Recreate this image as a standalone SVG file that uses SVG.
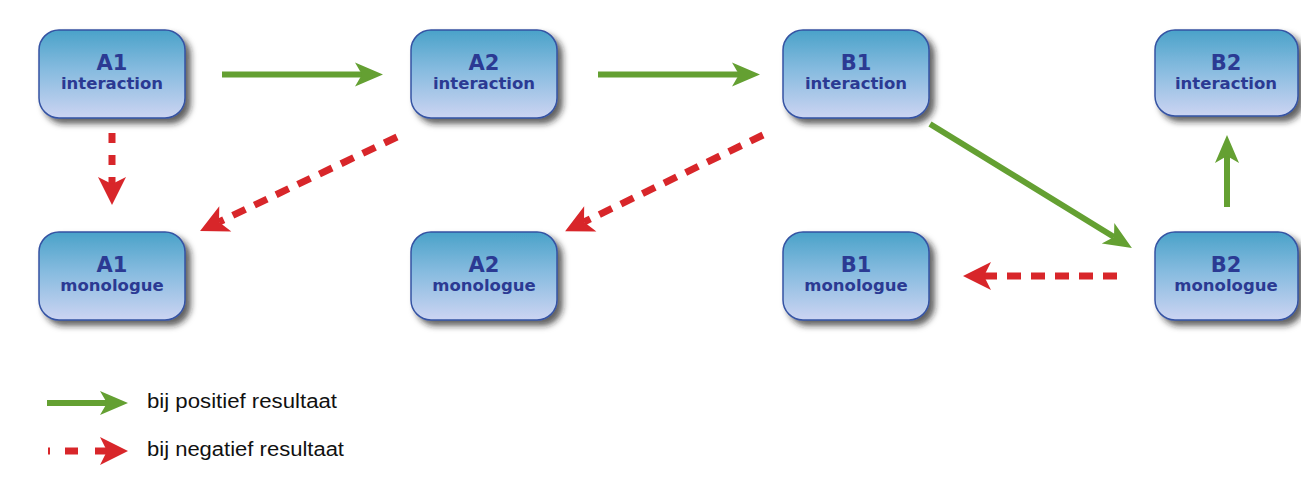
<svg xmlns="http://www.w3.org/2000/svg" width="1301" height="477" viewBox="0 0 1301 477">
  <defs>
    <linearGradient id="nodeGrad" x1="0" y1="0" x2="0" y2="1">
      <stop offset="0" stop-color="#4aa2c9"/>
      <stop offset="0.45" stop-color="#86bbdf"/>
      <stop offset="1" stop-color="#ccd4f2"/>
    </linearGradient>
    <filter id="shadow" x="-20%" y="-20%" width="150%" height="160%">
      <feDropShadow dx="5" dy="5" stdDeviation="3" flood-color="#1a1a1a" flood-opacity="0.7"/>
    </filter>
    <marker id="headGreen" markerUnits="userSpaceOnUse" markerWidth="30" markerHeight="26" refX="7" refY="12" orient="auto" overflow="visible">
      <path d="M0,0 L28,12 L0,24 L7,12 z" fill="#64a032"/>
    </marker>
    <marker id="headRed" markerUnits="userSpaceOnUse" markerWidth="30" markerHeight="30" refX="7" refY="14" orient="auto" overflow="visible">
      <path d="M0,0 L28,14 L0,28 L7,14 z" fill="#d8262a"/>
    </marker>
    <style>
      .box { fill: url(#nodeGrad); stroke: #3553a3; stroke-width: 1.5; filter: url(#shadow); }
      .t1 { font-family: "DejaVu Sans", sans-serif; font-weight: bold; font-size: 21px; fill: #2b3a93; text-anchor: middle; }
      .t2 { font-family: "DejaVu Sans", sans-serif; font-weight: bold; font-size: 16.5px; fill: #2b3a93; text-anchor: middle; }
      .pos { fill: none; stroke: #64a032; stroke-width: 6; marker-end: url(#headGreen); }
      .neg { fill: none; stroke: #d8262a; stroke-width: 7; stroke-dasharray: 14 10; marker-end: url(#headRed); }
      .leg { font-family: "Liberation Sans", Arial, sans-serif; font-size: 20px; fill: #111; }
    </style>
  </defs>
  <rect width="1301" height="477" fill="#ffffff"/>

  <g id="A1-interaction">
    <rect class="box" x="39" y="30" width="146" height="88" rx="20"/>
    <text class="t1" x="112" y="70">A1</text>
    <text class="t2" x="112" y="89">interaction</text>
  </g>
  <g id="A2-interaction">
    <rect class="box" x="411" y="30" width="146" height="88" rx="20"/>
    <text class="t1" x="484" y="70">A2</text>
    <text class="t2" x="484" y="89">interaction</text>
  </g>
  <g id="B1-interaction">
    <rect class="box" x="783" y="30" width="146" height="88" rx="20"/>
    <text class="t1" x="856" y="70">B1</text>
    <text class="t2" x="856" y="89">interaction</text>
  </g>
  <g id="B2-interaction">
    <rect class="box" x="1155" y="30" width="143" height="86" rx="20"/>
    <text class="t1" x="1226" y="70">B2</text>
    <text class="t2" x="1226" y="89">interaction</text>
  </g>
  <g id="A1-monologue">
    <rect class="box" x="39" y="232" width="146" height="88" rx="20"/>
    <text class="t1" x="112" y="272">A1</text>
    <text class="t2" x="112" y="291">monologue</text>
  </g>
  <g id="A2-monologue">
    <rect class="box" x="411" y="232" width="146" height="88" rx="20"/>
    <text class="t1" x="484" y="272">A2</text>
    <text class="t2" x="484" y="291">monologue</text>
  </g>
  <g id="B1-monologue">
    <rect class="box" x="783" y="232" width="146" height="88" rx="20"/>
    <text class="t1" x="856" y="272">B1</text>
    <text class="t2" x="856" y="291">monologue</text>
  </g>
  <g id="B2-monologue">
    <rect class="box" x="1155" y="232" width="143" height="88" rx="20"/>
    <text class="t1" x="1226" y="272">B2</text>
    <text class="t2" x="1226" y="291">monologue</text>
  </g>

  <g id="connectors">
    <path class="pos" d="M222,74.5 L362,74.5"/>
    <path class="pos" d="M598,74.5 L739,74.5"/>
    <path class="pos" d="M930,124 L1114,237"/>
    <path class="pos" d="M1227,207 L1227,156"/>
    <path class="neg" d="M112,133 L112,184" style="stroke-dasharray: 10 12"/>
    <path class="neg" d="M397,137 L219,222"/>
    <path class="neg" d="M763,135 L584,222"/>
    <path class="neg" d="M1117,276 L984,276"/>
  </g>

  <g id="legend">
    <path class="pos" d="M47,403 L107,403"/>
    <text class="leg" x="147" y="408" textLength="190" lengthAdjust="spacingAndGlyphs">bij positief resultaat</text>
    <path d="M48,451 h2" stroke="#d8262a" stroke-width="7" fill="none"/>
    <path d="M65,451 h13" stroke="#d8262a" stroke-width="7" fill="none"/>
    <path d="M95,451 L107,451" stroke="#d8262a" stroke-width="7" fill="none" marker-end="url(#headRed)"/>
    <text class="leg" x="147" y="456" textLength="197" lengthAdjust="spacingAndGlyphs">bij negatief resultaat</text>
  </g>
</svg>
